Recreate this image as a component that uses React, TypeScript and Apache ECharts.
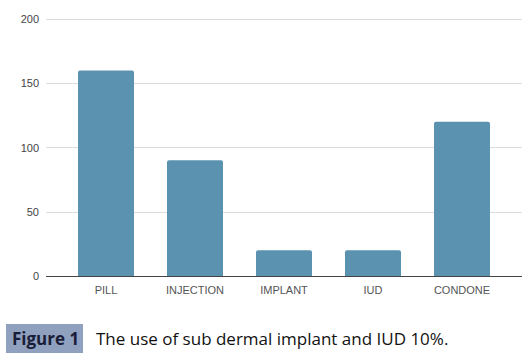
import React, { useEffect, useRef } from "react";
import * as echarts from "echarts";

const categories = ["PILL", "INJECTION", "IMPLANT", "IUD", "CONDONE"];
const values = [160, 90, 20, 20, 120];
const yTicks = [0, 50, 100, 150, 200];
const captionLabel = "Figure 1";
const captionText = "The use of sub dermal implant and IUD 10%.";

export default function App() {
  const ref = useRef<HTMLDivElement>(null);
  useEffect(() => {
    document.body.style.margin = "0";
    const chart = echarts.init(ref.current!, null, { renderer: "svg" });
    const yMin = yTicks[0];
    const yMax = yTicks[yTicks.length - 1];
    const interval = yTicks[1] - yTicks[0];
    chart.setOption({
      animation: false,
      backgroundColor: "#ffffff",
      grid: [
        { left: 46, right: 7, top: 19, bottom: 81 },
        { left: 61.5, width: 445, top: 19, bottom: 81 },
      ],
      xAxis: [
        {
          gridIndex: 0,
          type: "value",
          min: 0,
          max: 1,
          axisLine: { show: false },
          axisTick: { show: false },
          axisLabel: { show: false },
          splitLine: { show: false },
        },
        {
          gridIndex: 1,
          type: "category",
          data: categories,
          axisLine: { show: false },
          axisTick: { show: false },
          axisLabel: {
            color: "#555555",
            fontSize: 11,
            fontFamily: "Liberation Sans, Arial, sans-serif",
            margin: 8,
          },
        },
      ],
      yAxis: [
        {
          gridIndex: 0,
          type: "value",
          min: yMin,
          max: yMax,
          interval,
          axisLine: { show: false },
          axisTick: { show: false },
          axisLabel: {
            color: "#444444",
            fontSize: 11,
            fontFamily: "Liberation Sans, Arial, sans-serif",
            margin: 7,
          },
          splitLine: { lineStyle: { color: "#dcdcdc", width: 1 } },
        },
        {
          gridIndex: 1,
          type: "value",
          min: yMin,
          max: yMax,
          interval,
          show: false,
          splitLine: { show: false },
        },
      ],
      series: [
        {
          type: "bar",
          xAxisIndex: 1,
          yAxisIndex: 1,
          data: values,
          barWidth: 56,
          itemStyle: { color: "#5a92b0", borderRadius: [2, 2, 0, 0] },
          z: 2,
        },
      ],
      graphic: [
        {
          type: "line",
          shape: { x1: 46, y1: 276.5, x2: 522, y2: 276.5 },
          style: { stroke: "#444444", lineWidth: 1 },
          z: 10,
        },
        {
          type: "rect",
          shape: { x: 6, y: 324, width: 77, height: 29 },
          style: { fill: "#8fa1bf" },
        },
        {
          type: "text",
          x: 12,
          y: 338.5,
          style: {
            text: captionLabel,
            fill: "#1a1d38",
            font: "bold 17px 'Open Sans', 'Liberation Sans', sans-serif",
            verticalAlign: "middle",
          },
        },
        {
          type: "text",
          x: 96,
          y: 338.5,
          style: {
            text: captionText,
            fill: "#111111",
            font: "17px 'Open Sans', 'Liberation Sans', sans-serif",
            verticalAlign: "middle",
          },
        },
      ],
    });
    return () => chart.dispose();
  }, []);
  return (
    <div
      ref={ref}
      style={{ position: "absolute", left: 0, top: 0, width: 529, height: 357 }}
    />
  );
}
